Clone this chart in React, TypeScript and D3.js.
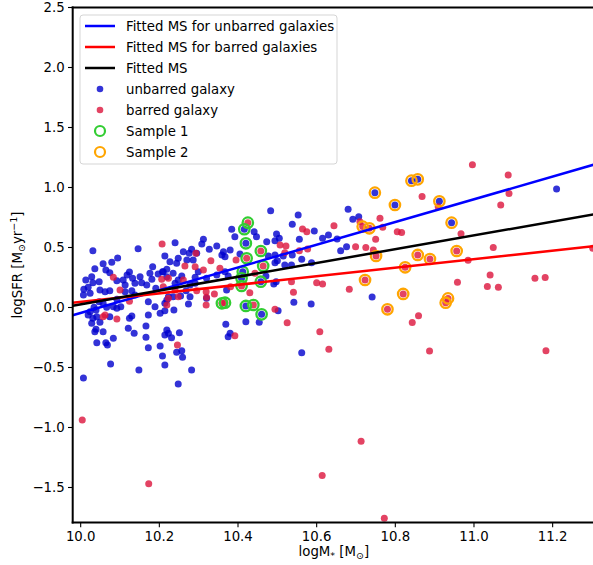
import React from 'react';
import * as d3 from 'd3';

const W = 593;
const H = 565;
const PLOT = { left: 72.7, right: 595, top: 7.5, bottom: 522.5 };

const xDomain = [9.9797, 11.3077];
const yDomain = [-1.7917, 2.5];
const xTicks = [10.0, 10.2, 10.4, 10.6, 10.8, 11.0, 11.2];
const yTicks = [-1.5, -1.0, -0.5, 0.0, 0.5, 1.0, 1.5, 2.0, 2.5];

const fitNames = ['Fitted MS for unbarred galaxies', 'Fitted MS for barred galaxies', 'Fitted MS'];
const fitColors = ['#0000ff', '#ff0000', '#000000'];
const fitSlopes = [0.947, 0.355, 0.575];
const fitAt10 = [-0.045, 0.047, 0.026];

const unbarred: [number, number][] = [
  [10.031,0.473],[10.146,0.49],[10.094,0.413],[10.079,0.377],[10.057,0.365],[10.036,0.323],[10.064,0.313],[10.074,0.29],
  [10.124,0.296],[10.118,0.271],[10.183,0.34],[10.176,0.285],[10.197,0.279],[10.208,0.298],[10.219,0.318],[10.013,0.229],
  [10.028,0.257],[10.031,0.207],[10.047,0.215],[10.092,0.223],[10.108,0.229],[10.113,0.188],[10.132,0.243],[10.138,0.202],
  [10.151,0.257],[10.155,0.207],[10.168,0.188],[10.191,0.16],[10.181,0.235],[10.008,0.152],[10.019,0.168],[10.024,0.118],
  [10.007,0.104],[10.049,0.146],[10.062,0.132],[10.074,0.14],[10.113,0.132],[10.130,0.14],[10.138,0.104],[10.092,0.068],
  [10.102,0.007],[10.083,0.007],[10.057,0.035],[10.066,0.002],[10.047,0.048],[10.034,0.002],[10.172,0.048],[10.189,0.007],
  [10.219,0.063],[10.024,-0.035],[10.041,-0.077],[10.074,-0.077],[10.172,-0.063],[10.202,-0.048],[10.214,-0.027],
  [10.039,-0.021],[10.031,-0.09],[10.019,-0.063],[10.028,-0.132],[10.049,-0.123],[10.092,-0.007],[10.124,-0.09],[10.130,-0.071],
  [10.039,-0.182],[10.036,-0.202],[10.057,-0.202],[10.121,-0.173],[10.136,-0.215],[10.166,-0.154],[10.219,-0.188],[10.214,-0.229],
  [10.166,-0.248],[10.041,-0.293],[10.064,-0.293],[10.068,-0.313],[10.083,-0.257],[10.172,-0.335],[10.202,-0.321],[10.208,-0.404],
  [10.214,-0.479],[10.076,-0.471],[10.148,-0.521],[10.007,-0.588],
  [10.384,0.652],[10.392,0.59],[10.441,0.632],[10.447,0.59],[10.240,0.54],[10.312,0.568],[10.308,0.529],[10.327,0.485],
  [10.346,0.513],[10.363,0.465],[10.380,0.479],[10.359,0.438],[10.367,0.423],[10.282,0.485],[10.276,0.452],[10.295,0.452],
  [10.270,0.396],[10.286,0.396],[10.214,0.429],[10.227,0.382],[10.244,0.368],[10.248,0.41],[10.261,0.465],[10.405,0.446],
  [10.299,0.298],[10.291,0.252],[10.320,0.243],[10.346,0.271],[10.367,0.298],[10.375,0.263],[10.210,0.298],[10.219,0.257],
  [10.235,0.285],[10.248,0.229],[10.257,0.263],[10.240,0.202],[10.278,0.188],[10.291,0.202],[10.223,0.09],[10.268,0.14],
  [10.278,0.09],[10.320,0.077],
  [10.214,0.035],[10.235,0.09],[10.254,0.096],[10.274,0.029],[10.237,-0.021],[10.371,0.146],[10.369,-0.14],[10.420,-0.118],
  [10.454,-0.123],[10.375,-0.243],[10.380,-0.215],[10.223,-0.215],[10.231,-0.252],[10.251,-0.21],[10.244,-0.373],[10.257,-0.36],
  [10.259,-0.415],[10.282,-0.521],[10.248,-0.638],
  [10.483,0.807],[10.553,0.771],[10.538,0.693],[10.680,0.818],[10.594,0.638],[10.630,0.604],[10.615,0.577],[10.652,0.571],
  [10.473,0.548],[10.498,0.613],[10.494,0.557],[10.505,0.577],[10.556,0.568],[10.538,0.438],[10.562,0.402],[10.587,0.373],
  [10.477,0.429],[10.494,0.438],[10.500,0.39],[10.515,0.429],[10.661,0.473],[10.676,0.507],[10.519,0.354],
  [10.494,0.373],[10.536,0.354],[10.471,0.263],[10.491,0.196],[10.497,0.215],[10.542,0.043],[10.586,0.029],[10.502,-0.027],
  [10.562,-0.377],
  [10.692,0.735],[10.707,0.757],[10.741,0.088],[11.210,0.988],
  [10.416,0.652],[10.420,0.535],[10.412,0.298],[10.409,0.243],[10.458,0.215],[10.420,0.013],[10.460,-0.057],
  [10.748,0.957],[10.799,0.854],[10.841,1.057],[10.857,1.068],[10.912,0.885],[10.943,0.707],
];

const barred: [number, number][] = [
  [10.207,0.529],[10.083,0.252],[10.206,0.235],[10.100,0.146],[10.124,0.052],[10.219,0.021],[10.057,-0.077],[10.092,-0.096],
  [10.062,-0.063],
  [10.293,0.452],[10.265,0.346],[10.291,0.34],[10.312,0.313],[10.331,0.39],[10.395,0.396],[10.354,0.327],[10.223,0.243],
  [10.261,0.229],[10.210,0.173],[10.240,0.146],[10.248,0.09],[10.295,0.14],[10.319,0.132],[10.340,0.113],[10.381,0.173],
  [10.430,0.123],[10.320,0.085],[10.319,0.021],[10.223,0.077],[10.392,-0.235],[10.246,-0.313],
  [10.644,0.682],[10.564,0.654],[10.575,0.632],[10.507,0.521],[10.522,0.513],[10.519,0.457],[10.556,0.473],[10.577,0.488],
  [10.443,0.285],[10.536,0.215],[10.600,0.207],[10.615,0.196],[10.683,0.152],[10.541,0.127],[10.494,-0.015],[10.525,-0.127],
  [10.608,-0.202],[10.631,-0.348],
  [10.996,1.190],[11.087,1.104],[11.089,0.951],[10.868,0.924],[10.909,0.840],[11.068,0.854],[10.761,0.743],[10.768,0.668],
  [10.710,0.715],[10.805,0.632],[10.816,0.626],[10.750,0.568],[10.744,0.479],[10.699,0.507],[10.725,0.499],[10.967,0.615],
  [11.049,0.501],[10.985,0.393],[11.041,0.271],[11.034,0.174],[11.062,0.168],[11.155,0.243],[11.181,0.251],[10.958,0.210],
  [10.859,-0.068],[10.843,-0.126],[11.302,0.493],
  [10.004,-0.938],[10.173,-1.468],[10.614,-1.401],[10.713,-1.115],[10.772,-1.757],[10.887,-0.362],[11.183,-0.360],
  [10.425,0.707],[10.422,0.41],[10.458,0.471],[10.464,0.346],[10.409,0.179],[10.359,0.035],[10.367,0.04],[10.439,0.021],
  [10.717,0.674],[10.734,0.660],[10.751,0.429],[10.857,0.438],[10.888,0.404],[10.956,0.471],[10.825,0.335],[10.723,0.229],
  [10.820,0.113],[10.780,-0.015],[10.928,0.040],[10.934,0.076],
];

const sample1: [number, number][] = [
  [10.425,0.707],[10.416,0.652],[10.420,0.535],[10.422,0.41],[10.458,0.471],[10.464,0.346],[10.412,0.298],[10.409,0.243],
  [10.409,0.179],[10.458,0.215],[10.359,0.035],[10.367,0.04],[10.420,0.013],[10.439,0.021],[10.460,-0.057],
];

const sample2: [number, number][] = [
  [10.748,0.957],[10.799,0.854],[10.841,1.057],[10.857,1.068],[10.912,0.885],[10.943,0.707],
  [10.717,0.674],[10.734,0.660],[10.751,0.429],[10.857,0.438],[10.888,0.404],[10.956,0.471],[10.825,0.335],[10.723,0.229],
  [10.820,0.113],[10.780,-0.015],[10.928,0.040],[10.934,0.076],
];

const BLUE_DOT = 'mediumblue';
const RED_DOT = 'crimson';
const GREEN = '#32cd32';
const ORANGE = '#ffa500';
const FONT = '"DejaVu Sans", sans-serif';

export default function App() {
  const x = d3.scaleLinear().domain(xDomain).range([PLOT.left, PLOT.right]);
  const y = d3.scaleLinear().domain(yDomain).range([PLOT.bottom, PLOT.top]);
  const fmt = (v: number) => d3.format('.1f')(v).replace('-', '\u2212');

  const legendItems = [
    { type: 'line', color: fitColors[0], label: fitNames[0] },
    { type: 'line', color: fitColors[1], label: fitNames[1] },
    { type: 'line', color: fitColors[2], label: fitNames[2] },
    { type: 'dot', color: BLUE_DOT, label: 'unbarred galaxy' },
    { type: 'dot', color: RED_DOT, label: 'barred galaxy' },
    { type: 'ring', color: GREEN, label: 'Sample 1' },
    { type: 'ring', color: ORANGE, label: 'Sample 2' },
  ];

  return (
    <svg width={W} height={H} style={{ position: 'absolute', left: 0, top: 0, background: '#fff' }} fontFamily={FONT}>
      <defs>
        <clipPath id="plotclip">
          <rect x={PLOT.left} y={PLOT.top} width={PLOT.right - PLOT.left} height={PLOT.bottom - PLOT.top} />
        </clipPath>
      </defs>
      <rect x={0} y={0} width={W} height={H} fill="#fff" />
      <g clipPath="url(#plotclip)">
        {unbarred.map((d, i) => (
          <circle key={'b' + i} cx={x(d[0])} cy={y(d[1])} r={3.5} fill={BLUE_DOT} fillOpacity={0.8} />
        ))}
        {barred.map((d, i) => (
          <circle key={'r' + i} cx={x(d[0])} cy={y(d[1])} r={3.5} fill={RED_DOT} fillOpacity={0.8} />
        ))}
        {sample1.map((d, i) => (
          <circle key={'s1' + i} cx={x(d[0])} cy={y(d[1])} r={5.2} fill="none" stroke={GREEN} strokeWidth={2.3} />
        ))}
        {sample2.map((d, i) => (
          <circle key={'s2' + i} cx={x(d[0])} cy={y(d[1])} r={5.2} fill="none" stroke={ORANGE} strokeWidth={2.3} />
        ))}
        {fitNames.map((n, i) => {
          const xs = [xDomain[0], xDomain[1]];
          const path = d3
            .line<number>()
            .x((d) => x(d))
            .y((d) => y(fitAt10[i] + fitSlopes[i] * (d - 10)))(xs);
          return <path key={n} d={path || ''} stroke={fitColors[i]} strokeWidth={2.5} fill="none" />;
        })}
      </g>
      {/* spines */}
      <line x1={PLOT.left} x2={PLOT.left} y1={PLOT.top - 1} y2={PLOT.bottom + 1} stroke="#000" strokeWidth={2} />
      <line x1={PLOT.left - 1} x2={PLOT.right} y1={PLOT.bottom} y2={PLOT.bottom} stroke="#000" strokeWidth={2} />
      <line x1={PLOT.left - 1} x2={PLOT.right} y1={PLOT.top} y2={PLOT.top} stroke="#000" strokeWidth={2} />
      {/* x ticks */}
      {xTicks.map((t) => (
        <g key={'xt' + t}>
          <line x1={x(t)} x2={x(t)} y1={PLOT.bottom} y2={PLOT.bottom + 4.7} stroke="#000" strokeWidth={1.1} />
          <text x={x(t)} y={541} textAnchor="middle" fontSize={13.3} fill="#000">{fmt(t)}</text>
        </g>
      ))}
      {yTicks.map((t) => (
        <g key={'yt' + t}>
          <line x1={PLOT.left - 4.7} x2={PLOT.left} y1={y(t)} y2={y(t)} stroke="#000" strokeWidth={1.1} />
          <text x={PLOT.left - 8} y={y(t)} dy="0.35em" textAnchor="end" fontSize={13.3} fill="#000">{fmt(t)}</text>
        </g>
      ))}
      {/* axis labels */}
      <text x={(PLOT.left + PLOT.right) / 2} y={556} textAnchor="middle" fontSize={13.3} fill="#000">
        logM<tspan fontSize={9.5} dy={3}>*</tspan>
        <tspan dy={-3}> [M</tspan>
        <tspan fontSize={9.5} dy={3}>⊙</tspan>
        <tspan dy={-3}>]</tspan>
      </text>
      <text transform={`translate(22, ${(PLOT.top + PLOT.bottom) / 2}) rotate(-90)`} textAnchor="middle" fontSize={13.3} fill="#000">
        logSFR [M<tspan fontSize={9.5} dy={3}>⊙</tspan>
        <tspan dy={-3}>yr</tspan>
        <tspan fontSize={9.5} dy={-5}>−1</tspan>
        <tspan dy={5}>]</tspan>
      </text>
      {/* legend */}
      <g>
        <rect x={80} y={15} width={257} height={149} rx={3} fill="#fff" fillOpacity={0.8} stroke="#d5d5d5" strokeWidth={1} />
        {legendItems.map((it, i) => {
          const cy = 26 + i * 21;
          return (
            <g key={it.label}>
              {it.type === 'line' && (
                <line x1={85} x2={115} y1={cy} y2={cy} stroke={it.color} strokeWidth={2.5} />
              )}
              {it.type === 'dot' && <circle cx={100} cy={cy} r={3.3} fill={it.color} fillOpacity={0.8} />}
              {it.type === 'ring' && (
                <circle cx={100} cy={cy} r={5} fill="none" stroke={it.color} strokeWidth={2.2} />
              )}
              <text x={126} y={cy} dy="0.35em" fontSize={13.3} fill="#000">{it.label}</text>
            </g>
          );
        })}
      </g>
    </svg>
  );
}
